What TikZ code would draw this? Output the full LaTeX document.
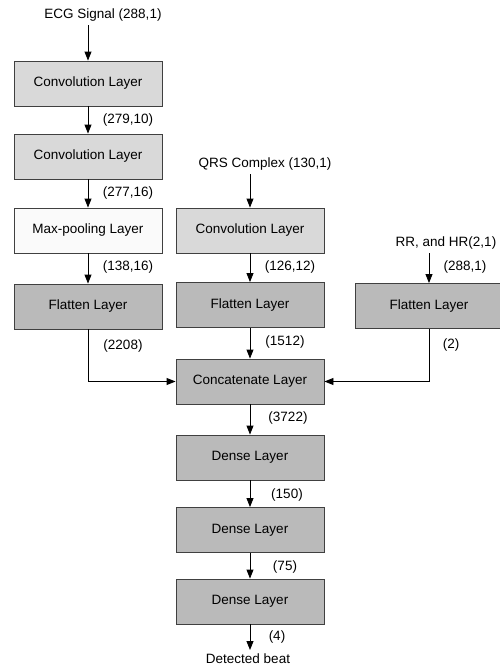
\documentclass[tikz,border=0pt]{standalone}
\usepackage{fontspec}
\setmainfont{Liberation Sans}
\usetikzlibrary{arrows.meta}
\begin{document}
\begin{tikzpicture}[x=1pt,y=-1pt,
  layer/.style={draw=black!75,line width=0.9pt,minimum width=148pt,minimum height=45pt,inner sep=0pt,font=\fontsize{13.5}{15}\selectfont},
  conv/.style={layer,fill=black!15},
  pool/.style={layer,fill=black!2},
  dark/.style={layer,fill=black!27},
  lbl/.style={font=\fontsize{13.5}{15}\selectfont,inner sep=0pt},
  flow/.style={line width=0.9pt,-{Triangle[length=9pt,width=7pt]}},
  wire/.style={line width=0.9pt}]
\useasboundingbox (0,0) rectangle (500,667);
\fill[white] (0,0) rectangle (500,667);

% inputs
\node[lbl] (ecg) at (103,15) {ECG Signal (288,1)};
\node[lbl] (qrs) at (265,164) {QRS Complex (130,1)};
\node[lbl] (rr) at (446,243) {RR, and HR(2,1)};

% ECG branch
\node[conv] (c1) at (88,83.5) {Convolution  Layer};
\node[conv] (c2) at (88,156.5) {Convolution  Layer};
\node[pool] (mp) at (88,230.5) {Max-pooling  Layer};
\node[dark] (f1) at (88,306.5) {Flatten  Layer};

% QRS branch
\node[conv] (c3) at (250,230.5) {Convolution  Layer};
\node[dark] (f2) at (250,305) {Flatten  Layer};

% RR / HR branch
\node[dark] (f3) at (429,306) {Flatten  Layer};

% merged trunk
\node[dark] (cat) at (250,381.5) {Concatenate  Layer};
\node[dark] (d1) at (250,457.5) {Dense Layer};
\node[dark] (d2) at (250,530) {Dense Layer};
\node[dark] (d3) at (250,601.5) {Dense Layer};
\node[lbl] (out) at (248,658.5) {Detected beat};

\coordinate (ecgtop) at (88,25);
\coordinate (qrstop) at (250,174);
\coordinate (rrtop) at (429,253);
\coordinate (outend) at (250,650);

\draw[flow] (ecgtop) -- (c1.north);
\draw[flow] (c1) -- (c2);
\draw[flow] (c2) -- (mp);
\draw[flow] (mp) -- (f1);
\draw[flow] (qrstop) -- (c3.north);
\draw[flow] (c3) -- (f2);
\draw[flow] (f2) -- (cat);
\draw[flow] (rrtop) -- (f3.north);
\draw[flow] (f1.south) |- (cat.west);
\draw[flow] (f3.south) |- (cat.east);
\draw[flow] (cat) -- (d1);
\draw[flow] (d1) -- (d2);
\draw[flow] (d2) -- (d3);
\draw[flow] (d3.south) -- (outend);

% tensor shapes
\node[lbl] at (128,120) {(279,10)};
\node[lbl] at (128,193) {(277,16)};
\node[lbl] at (128,267) {(138,16)};
\node[lbl] at (123,346) {(2208)};
\node[lbl] at (290,267) {(126,12)};
\node[lbl] at (285,342) {(1512)};
\node[lbl] at (465,267) {(288,1)};
\node[lbl] at (451,345) {(2)};
\node[lbl] at (288,418) {(3722)};
\node[lbl] at (287,495) {(150)};
\node[lbl] at (285,567) {(75)};
\node[lbl] at (277,637) {(4)};
\end{tikzpicture}
\end{document}
